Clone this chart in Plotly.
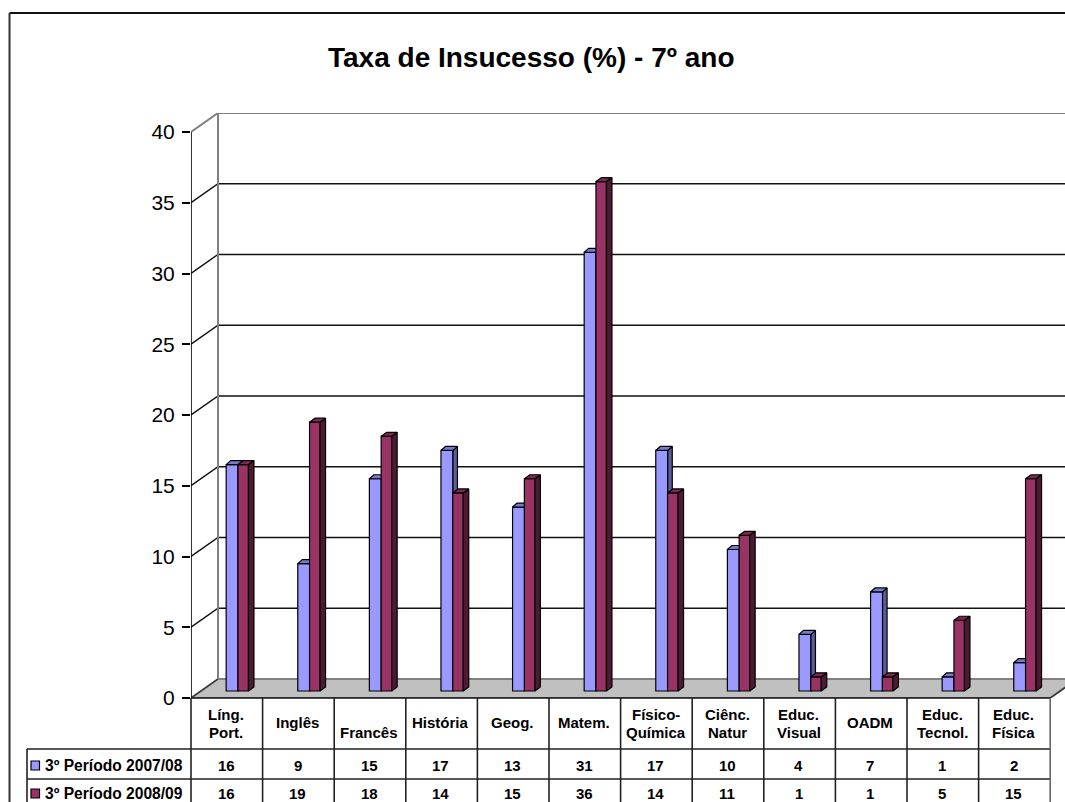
import plotly.graph_objects as go

# ---------- data ----------
CATEGORIES = ["Líng.\nPort.", "Inglês", "\nFrancês", "História", "Geog.", "Matem.",
              "Físico-\nQuímica", "Ciênc.\nNatur", "Educ.\nVisual", "OADM",
              "Educ.\nTecnol.", "Educ.\nFísica"]
SERIES_A_NAME = "3º Período 2007/08"
SERIES_B_NAME = "3º Período 2008/09"
SERIES_A = [16, 9, 15, 17, 13, 31, 17, 10, 4, 7, 1, 2]
SERIES_B = [16, 19, 18, 14, 15, 36, 14, 11, 1, 1, 5, 15]
Y_TICKS = [0, 5, 10, 15, 20, 25, 30, 35, 40]
TITLE = "Taxa de Insucesso (%) - 7º ano"

# ---------- geometry ----------
W, H = 1065, 802
L, T, B = 191, 113, 104          # plot-area margins
PX_X = 71.6                      # pixels per category
PX_Y = 14.15                     # pixels per value unit
XMAX = (W - L) / PX_X
YMAX = (H - T - B) / PX_Y
DEPTH_X, DEPTH_Y = 27 / PX_X, 19 / PX_Y   # oblique offset of the back wall
BASE = 7 / PX_Y                  # bars stand part-way back on the floor
FONT = "Liberation Sans, Arial, sans-serif"
N = len(CATEGORIES)

def px(x):   # pixel -> paper
    return (x - L) / (W - L)
def py(y):
    return (H - B - y) / (H - T - B)

def polys(shapes):
    xs, ys = [], []
    for s in shapes:
        xs += [p[0] for p in s] + [s[0][0], None]
        ys += [p[1] for p in s] + [s[0][1], None]
    return xs, ys

def bar_traces(values, name, offset, width, dx, dy, front, top, side, xa, ya):
    hw = width / 2
    xc = [i + offset for i in range(len(values))]
    tops, sides = [], []
    for c, v in zip(xc, values):
        t = BASE + v
        tops.append([(c - hw, t), (c - hw + dx, t + dy), (c + hw + dx, t + dy), (c + hw, t)])
        sides.append([(c + hw, BASE), (c + hw + dx, BASE + dy), (c + hw + dx, t + dy), (c + hw, t)])
    out = [go.Bar(x=xc, y=values, base=BASE, width=width, name=name, xaxis=xa, yaxis=ya,
                  marker=dict(color=front, line=dict(color="#000000", width=1.2)), showlegend=False)]
    for shp, col in ((sides, side), (tops, top)):
        xs, ys = polys(shp)
        out.append(go.Scatter(x=xs, y=ys, mode="lines", fill="toself", fillcolor=col, xaxis=xa, yaxis=ya,
                              line=dict(color="#000000", width=1.2), hoverinfo="skip", showlegend=False))
    return out

fig = go.Figure()

# floor
floor = [(0, 0), (DEPTH_X, DEPTH_Y), (N + DEPTH_X, DEPTH_Y), (N, 0)]
xs, ys = polys([floor])
fig.add_trace(go.Scatter(x=xs, y=ys, mode="lines", fill="toself", fillcolor="#c0c0c0",
                         line=dict(color="#808080", width=2), hoverinfo="skip",
                         showlegend=False, cliponaxis=False))
# dark front edges of the floor
fig.add_trace(go.Scatter(x=[0, DEPTH_X, None, N, N + DEPTH_X], y=[0, DEPTH_Y, None, 0, DEPTH_Y], mode="lines",
                         line=dict(color="#333333", width=1.3), hoverinfo="skip",
                         showlegend=False, cliponaxis=False))
# gridlines on the back wall and the side wall
gx, gy = [], []
for t in Y_TICKS[1:-1]:
    gx += [0, DEPTH_X, XMAX, None]
    gy += [t, t + DEPTH_Y, t + DEPTH_Y, None]
fig.add_trace(go.Scatter(x=gx, y=gy, mode="lines", line=dict(color="#111111", width=1.5),
                         hoverinfo="skip", showlegend=False, cliponaxis=False))
# wall outline
fig.add_trace(go.Scatter(x=[0, DEPTH_X, XMAX, None, DEPTH_X, DEPTH_X],
                         y=[Y_TICKS[-1], Y_TICKS[-1] + DEPTH_Y, Y_TICKS[-1] + DEPTH_Y, None,
                            Y_TICKS[-1] + DEPTH_Y, DEPTH_Y],
                         mode="lines", line=dict(color="#808080", width=2),
                         hoverinfo="skip", showlegend=False, cliponaxis=False))
# value axis line
fig.add_trace(go.Scatter(x=[0, 0], y=[Y_TICKS[0], Y_TICKS[-1]], mode="lines",
                         line=dict(color="#000000", width=1.6), hoverinfo="skip",
                         showlegend=False, cliponaxis=False))

for tr in bar_traces(SERIES_A, SERIES_A_NAME, 0.575, 12 / PX_X, 4.5 / PX_X, 4 / PX_Y,
                     "#9999ff", "#7a7acc", "#5c5c99", "x2", "y2"):
    fig.add_trace(tr)
for tr in bar_traces(SERIES_B, SERIES_B_NAME, 0.729, 10.5 / PX_X, 5.5 / PX_X, 4 / PX_Y,
                     "#993366", "#7a2952", "#4d1a33", "x3", "y3"):
    fig.add_trace(tr)

# ---------- data table ----------
shapes = []
def line(x0, y0, x1, y1, color="#222222", width=1.6):
    shapes.append(dict(type="line", xref="paper", yref="paper", x0=px(x0), y0=py(y0), x1=px(x1), y1=py(y1),
                       line=dict(color=color, width=width)))

TABLE_TOP, HEAD_BOTTOM, ROW_SPLIT = 698, 749, 779
line(L, TABLE_TOP, L + N * PX_X, TABLE_TOP, "#111111", 1.6)
line(27, HEAD_BOTTOM, L + N * PX_X, HEAD_BOTTOM)
line(27, ROW_SPLIT, L + N * PX_X, ROW_SPLIT)
line(27, HEAD_BOTTOM, 27, H)
for i in range(N + 1):
    line(L + i * PX_X, TABLE_TOP, L + i * PX_X, H, "#222222" if i < N else "#666666")

# chart frame
line(9.5, 13, W, 13, "#111111", 2)
line(9.5, 13, 9.5, H, "#333333", 2)

for y0, y1, col in ((761, 770, "#9999ff"), (789, 798, "#993366")):
    shapes.append(dict(type="rect", xref="paper", yref="paper", x0=px(31), x1=px(39.5), y0=py(y0), y1=py(y1),
                       fillcolor=col, line=dict(color="#000000", width=1.2)))

ann = []
def text(s, x, y, size=15, xref="paper", xanchor="center"):
    ann.append(dict(text="<b>" + s + "</b>", x=x, y=py(y), xref=xref, yref="paper", xanchor=xanchor,
                    yanchor="middle", showarrow=False,
                    font=dict(family=FONT, size=size, color="#000000")))

for i, c in enumerate(CATEGORIES):
    parts = c.split("\n")
    if len(parts) == 1:
        text(parts[0], i + 0.49, 722, xref="x")
    else:
        for part, y in zip(parts, (714, 732.5)):
            if part:
                text(part, i + 0.49, y, xref="x")
    text(str(SERIES_A[i]), i + 0.49, 765, xref="x")
    text(str(SERIES_B[i]), i + 0.49, 793, xref="x")
text(SERIES_A_NAME, px(43), 765, size=15.6, xanchor="left")
text(SERIES_B_NAME, px(43), 793, size=15.6, xanchor="left")
text(TITLE, px(531), 58, size=28)

axis_hidden = dict(range=[0, XMAX], visible=False, fixedrange=True)
yaxis_hidden = dict(range=[0, YMAX], visible=False, fixedrange=True)
fig.update_layout(
    width=W, height=H, autosize=False,
    margin=dict(l=L, r=0, t=T, b=B, pad=0),
    paper_bgcolor="#ffffff", plot_bgcolor="#ffffff",
    barmode="overlay", showlegend=False,
    font=dict(family=FONT, color="#000000"),
    xaxis=dict(axis_hidden),
    yaxis=dict(range=[0, YMAX], tickmode="array", tickvals=Y_TICKS, ticktext=[str(t) for t in Y_TICKS],
               ticks="outside", ticklen=8, tickwidth=1.5, tickcolor="#000000", showgrid=False, zeroline=False,
               showline=False, ticklabelstandoff=3,
               tickfont=dict(family=FONT, size=21, color="#000000"), fixedrange=True),
    xaxis2=dict(axis_hidden, overlaying="x", anchor="y2"),
    yaxis2=dict(yaxis_hidden, overlaying="y", anchor="x2"),
    xaxis3=dict(axis_hidden, overlaying="x", anchor="y3"),
    yaxis3=dict(yaxis_hidden, overlaying="y", anchor="x3"),
    shapes=shapes, annotations=ann,
)

fig.write_html("out.html", config=dict(displayModeBar=False),
               post_script="document.body.style.margin='0';document.body.style.overflow='hidden';")
